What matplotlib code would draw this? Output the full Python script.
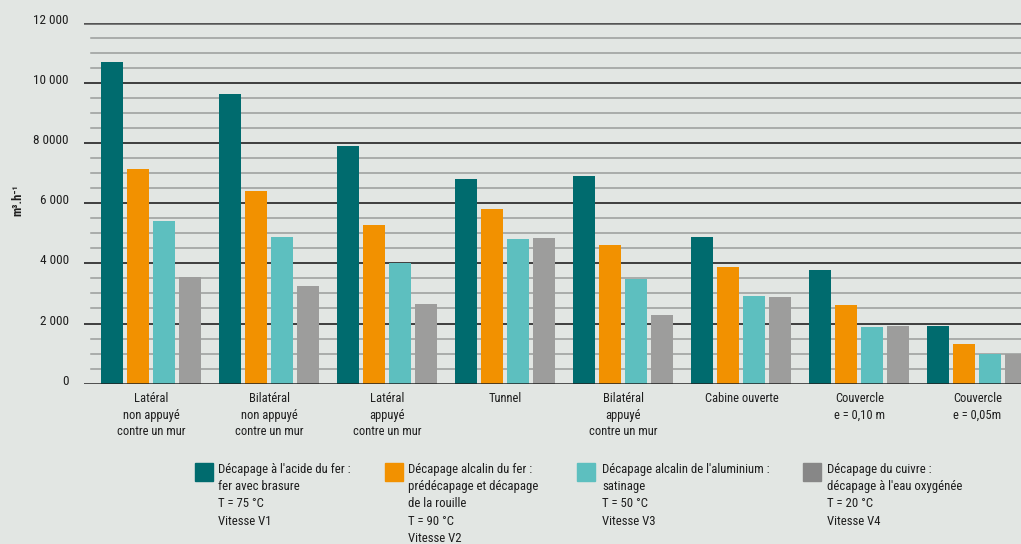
import numpy as np
import matplotlib
matplotlib.use("Agg")
from matplotlib import pyplot as plt
from matplotlib import transforms
from matplotlib.patches import Rectangle

plt.rcParams['font.family'] = ['Roboto Condensed', 'Liberation Sans Narrow', 'Roboto', 'DejaVu Sans']

# données (m3/h)
categories = ["Latéral\nnon appuyé\ncontre un mur",
              "Bilatéral\nnon appuyé\ncontre un mur",
              "Latéral\nappuyé\ncontre un mur",
              "Tunnel",
              "Bilatéral\nappuyé\ncontre un mur",
              "Cabine ouverte",
              "Couvercle\ne = 0,10 m",
              "Couvercle\ne = 0,05m"]
acide_fer = [10700, 9620, 7900, 6800, 6900, 4880, 3780, 1920]
alcalin_fer = [7150, 6400, 5270, 5810, 4610, 3880, 2620, 1320]
alcalin_alu = [5400, 4880, 4010, 4810, 3480, 2920, 1890, 990]
cuivre = [3550, 3250, 2650, 4840, 2280, 2880, 1920, 990]

series_labels = ["Décapage à l'acide du fer :\nfer avec brasure\nT = 75 °C\nVitesse V1",
                 "Décapage alcalin du fer :\nprédécapage et décapage\nde la rouille\nT = 90 °C\nVitesse V2",
                 "Décapage alcalin de l'aluminium :\nsatinage\nT = 50 °C\nVitesse V3",
                 "Décapage du cuivre :\ndécapage à l'eau oxygénée\nT = 20 °C\nVitesse V4"]
colors = ["#006b6e", "#f29100", "#5dbfbf", "#9d9d9c"]
legend_colors = ["#006b6e", "#f29100", "#5dbfbf", "#878787"]

ytick_vals = [0, 2000, 4000, 6000, 8000, 10000, 12000]
ytick_labels = ["0", "2 000", "4 000", "6 000", "8 0000", "10 000", "12 000"]
minor_vals = [v for v in range(500, 12000, 500) if v % 2000 != 0]

bg = "#e2e6e3"
txt = "#1e1e1e"

fig = plt.figure(figsize=(10.21, 5.44), dpi=100, facecolor=bg)
ax = fig.add_axes([84 / 1021, 1 - 383.7 / 544, 1 - 84 / 1021, (383.7 - 22.7) / 544])
ax.set_facecolor(bg)

x = np.arange(len(categories))
step = 26 / 118
width = 22 / 118
series = [acide_fer, alcalin_fer, alcalin_alu, cuivre]
for i, vals in enumerate(series):
    ax.bar(x + (i - 1.5) * step, vals, width=width, color=colors[i], zorder=2)

# grille
for v in minor_vals:
    ax.axhline(v, xmin=7 / 937, color="#9a9c9a", lw=1.1, zorder=1)
for v in ytick_vals[1:-1]:
    ax.axhline(v, color="#222222", lw=1.2, zorder=1)
ax.axhline(12000, color="#555555", lw=1.8, zorder=1)
ax.axhline(0, color="#222222", lw=1.8, zorder=3)

ax.set_xlim(-0.572, 7.37)
ax.set_ylim(0, 12000)
for s in ax.spines.values():
    s.set_visible(False)

ax.set_yticks(ytick_vals)
ax.set_yticklabels(ytick_labels, fontsize=9.5, color=txt)
ax.tick_params(axis="y", length=0, pad=11)
offset = transforms.ScaledTranslation(0, 4 / 100, fig.dpi_scale_trans)
for lab in ax.get_yticklabels():
    lab.set_transform(lab.get_transform() + offset)

ax.set_xticks(x)
ax.set_xticklabels(categories, fontsize=9, color=txt, linespacing=1.35, va="top")
ax.tick_params(axis="x", length=0, pad=6)

fig.text(18 / 1021, 1 - 200 / 544, "m³.h⁻¹", rotation=90, fontsize=9,
         fontweight="bold", ha="center", va="center", color=txt,
         family=['Roboto Condensed', 'Roboto', 'DejaVu Sans'])

# légende
sq_x = [195, 385, 577, 803]
tx_x = [218, 408, 602, 827]
for i in range(4):
    fig.patches.append(Rectangle((sq_x[i] / 1021, 1 - 481 / 544), 18 / 1021, 18 / 544,
                                 transform=fig.transFigure, color=legend_colors[i], figure=fig))
    fig.text(tx_x[i] / 1021, 1 - 463 / 544, series_labels[i], fontsize=9.2,
             ha="left", va="top", linespacing=1.42, color=txt)

plt.savefig("out.png", dpi=100, facecolor=bg)
